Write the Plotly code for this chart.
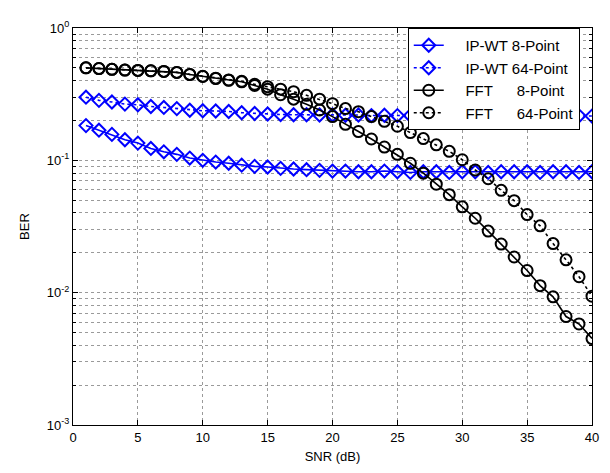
import plotly.graph_objects as go

snr = list(range(1, 41))

ipwt8 = [0.183, 0.169, 0.157, 0.143, 0.135, 0.123, 0.116, 0.111, 0.104, 0.100,
         0.097, 0.095, 0.092, 0.090, 0.089, 0.087, 0.086, 0.085, 0.084, 0.083,
         0.083, 0.082, 0.082, 0.083, 0.082, 0.081, 0.082, 0.082, 0.081, 0.082,
         0.082, 0.081, 0.082, 0.082, 0.082, 0.081, 0.082, 0.082, 0.081, 0.082]

ipwt64 = [0.300, 0.284, 0.276, 0.266, 0.263, 0.255, 0.251, 0.246, 0.239, 0.237,
          0.236, 0.234, 0.229, 0.226, 0.224, 0.222, 0.221, 0.221, 0.220, 0.220,
          0.219, 0.220, 0.218, 0.219, 0.218, 0.218, 0.217, 0.218, 0.217, 0.218,
          0.217, 0.217, 0.218, 0.217, 0.216, 0.217, 0.217, 0.216, 0.217, 0.216]

fft8 = [0.500, 0.494, 0.487, 0.481, 0.478, 0.475, 0.470, 0.462, 0.445, 0.430,
        0.415, 0.402, 0.392, 0.368, 0.345, 0.313, 0.290, 0.265, 0.240, 0.214,
        0.187, 0.165, 0.145, 0.126, 0.111, 0.095, 0.080, 0.066, 0.055, 0.0445,
        0.0365, 0.0292, 0.0233, 0.0186, 0.0147, 0.0113, 0.0093, 0.0066, 0.0058, 0.0045]

fft64 = [0.500, 0.494, 0.487, 0.481, 0.478, 0.475, 0.470, 0.462, 0.446, 0.432,
         0.418, 0.405, 0.396, 0.375, 0.360, 0.345, 0.330, 0.310, 0.290, 0.268,
         0.246, 0.233, 0.214, 0.197, 0.181, 0.162, 0.146, 0.131, 0.117, 0.101,
         0.0845, 0.0726, 0.0593, 0.0496, 0.0389, 0.0320, 0.0235, 0.0177, 0.0132, 0.0094]

NB = "\u00a0"
LEAD = NB * 4
names = [LEAD + "IP-WT 8-Point", LEAD + "IP-WT 64-Point",
         LEAD + "FFT" + NB * 4 + "\u2009 8-Point", LEAD + "FFT" + NB * 4 + "\u2009 64-Point"]

x_ticks = [0, 5, 10, 15, 20, 25, 30, 35, 40]
y_major = [1e-3, 1e-2, 1e-1, 1]
y_major_text = ["10<sup>-3</sup>", "10<sup>-2</sup>", "10<sup>-1</sup>", "10<sup>0</sup>"]
y_minor = [m * 10.0 ** e for e in (-3, -2, -1) for m in range(2, 10)]

BLUE = "#0000FF"
BLACK = "#000000"

fig = go.Figure()
series = [
    (ipwt8, names[0], BLUE, "solid", "diamond-open", 10),
    (ipwt64, names[1], BLUE, "dot", "diamond-open", 10),
    (fft8, names[2], BLACK, "solid", "circle-open", 11),
    (fft64, names[3], BLACK, "dot", "circle-open", 11),
]
for ys, nm, col, dash, sym, sz in series:
    fig.add_trace(go.Scatter(
        x=snr, y=ys, name=nm, mode="lines+markers",
        line=dict(color=col, width=1.6, dash=dash),
        marker=dict(symbol=sym, size=sz, color=col, line=dict(color=col, width=2)),
    ))

font = dict(family="Liberation Sans, Arial, sans-serif", size=13, color="black")
grid = dict(showgrid=True, gridcolor="#9a9a9a", griddash="dot", gridwidth=1)

# page body has an 8px margin; size the figure so it fits the 610x473 window
fig.update_layout(
    width=602, height=465,
    margin=dict(l=65, r=16, t=11, b=46),
    paper_bgcolor="white", plot_bgcolor="white",
    font=font,
    showlegend=True,
    legend=dict(x=0.645, y=1.0, xanchor="left", yanchor="top",
                bgcolor="white", bordercolor="black", borderwidth=1,
                font=dict(family="Liberation Sans, Arial, sans-serif", size=15, color="black"),
                tracegroupgap=0),
)
fig.update_xaxes(
    range=[0, 40], tickmode="array", tickvals=x_ticks,
    ticks="inside", ticklen=5, tickcolor="black",
    showline=True, linecolor="black", linewidth=1, mirror="ticks",
    zeroline=False,
    title=dict(text="SNR (dB)", standoff=8, font=font),
    **grid,
)
fig.update_yaxes(
    type="log", range=[-3, 0], tickmode="array", tickvals=y_major, ticktext=y_major_text,
    ticks="inside", ticklen=5, tickcolor="black",
    showline=True, linecolor="black", linewidth=1, mirror="ticks",
    zeroline=False,
    title=dict(text="BER", standoff=14, font=font),
    minor=dict(tickmode="array", tickvals=y_minor, ticks="inside", ticklen=3,
               tickcolor="black", showgrid=True, gridcolor="#9a9a9a", griddash="dot"),
    **grid,
)

fig.write_html("out.html")
